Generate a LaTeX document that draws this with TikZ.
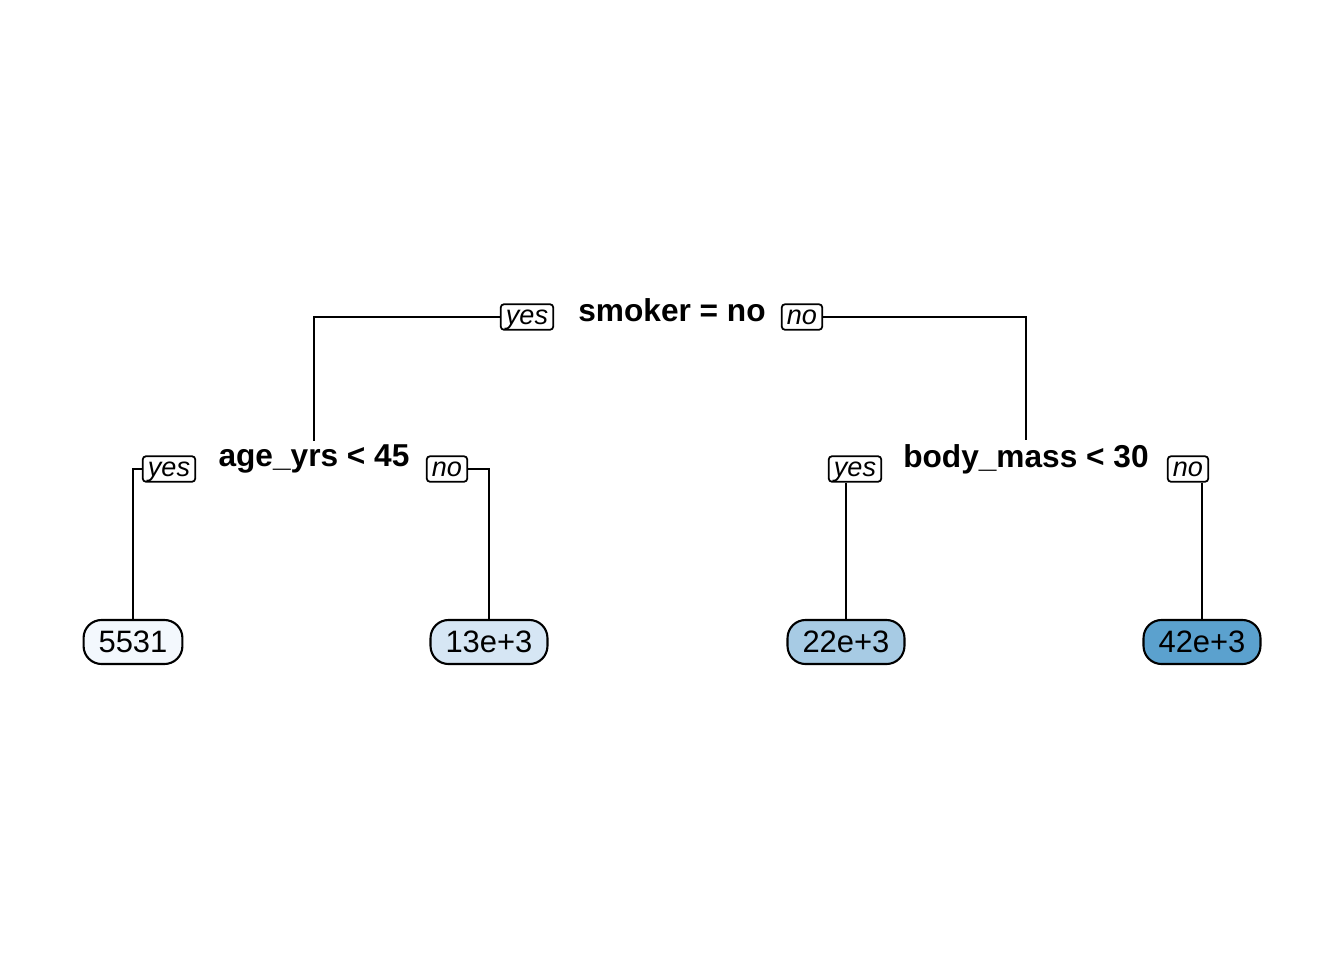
\documentclass[tikz,border=0pt]{standalone}
\usepackage{fontspec}
\setmainfont{Liberation Sans}
\usetikzlibrary{shapes,arrows}
\definecolor{leafa}{HTML}{F3F8FD}
\definecolor{leafb}{HTML}{D6E6F4}
\definecolor{leafc}{HTML}{A7CBE4}
\definecolor{leafd}{HTML}{5BA1CE}
\tikzstyle{split} = [font=\fontsize{9}{11}\selectfont\bfseries, inner sep=1pt]
\tikzstyle{answer} = [rectangle, draw, line width=0.5pt, rounded corners=1pt,
font=\fontsize{7.7}{9}\selectfont\itshape, inner xsep=1.5pt, inner ysep=0pt,
text height=5.8pt, text depth=1.5pt, fill=white]
\tikzstyle{leaf} = [rectangle, draw, line width=0.6pt, rounded corners=0.18cm,
font=\fontsize{8.8}{10}\selectfont, inner xsep=0.15cm, inner ysep=0pt, minimum height=0.44cm]
\tikzstyle{line} = [draw, line width=0.6pt]

\begin{document}
\begin{tikzpicture}[x=0.01cm, y=-0.01cm]
\useasboundingbox (0,0) rectangle (1344,960);
% Place nodes
\node [split] (smoker) at (672,310) {smoker = no};
\node [split] (age) at (314,459) {age\_yrs < 45};
\node [split] (body) at (1026,459) {body\_mass < 30};
\node [leaf, fill=leafa] (low) at (133,642) {5531};
\node [leaf, fill=leafb] (older) at (489,642) {13e+3};
\node [leaf, fill=leafc] (lean) at (846,642) {22e+3};
\node [leaf, fill=leafd] (heavy) at (1202,642) {42e+3};
\node [answer] (smokeryes) at (527,317) {yes};
\node [answer] (smokerno) at (802,317) {no};
\node [answer] (ageyes) at (169,469) {yes};
\node [answer] (ageno) at (447,469) {no};
\node [answer] (bodyyes) at (855,469) {yes};
\node [answer] (bodyno) at (1188,469) {no};
% Draw edges
\path [line] (smokeryes.west) -| (age.north);
\path [line] (smokerno.east) -| (body.north);
\path [line] (ageyes.west) -| (low.north);
\path [line] (ageno.east) -| (older.north);
\path [line] (bodyyes.south -| lean.north) -- (lean.north);
\path [line] (bodyno.south -| heavy.north) -- (heavy.north);
\end{tikzpicture}
\end{document}
